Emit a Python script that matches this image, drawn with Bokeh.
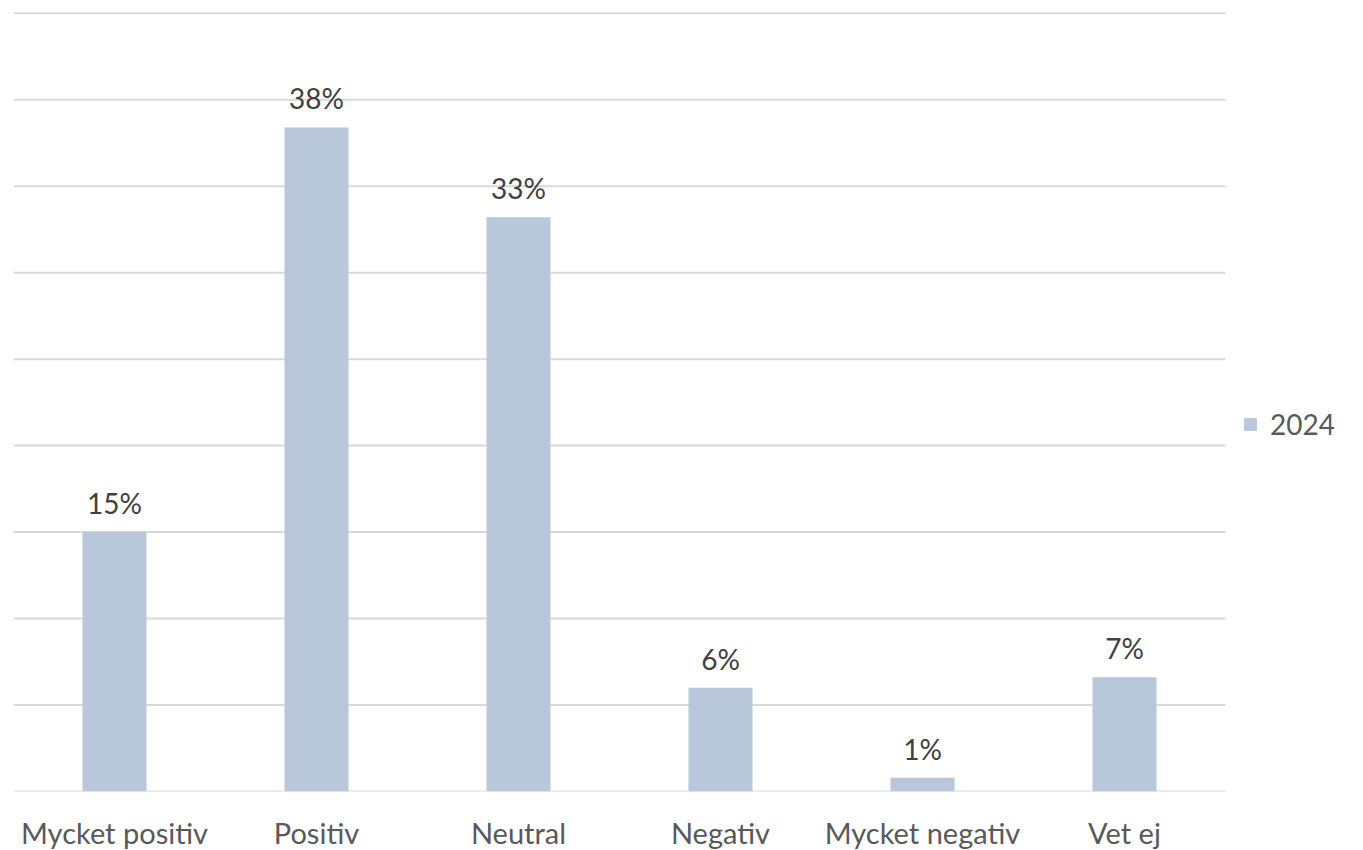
from bokeh.plotting import figure
from bokeh.models import ColumnDataSource, Legend, LegendItem, FixedTicker, Range1d
from bokeh.core.properties import value
from bokeh.embed import file_html
from bokeh.resources import INLINE

categories = ["Mycket positiv", "Positiv", "Neutral", "Negativ", "Mycket negativ", "Vet ej"]
values_2024 = [15.0, 38.4, 33.2, 6.0, 0.8, 6.6]
labels_2024 = ["15%", "38%", "33%", "6%", "1%", "7%"]
series_name = "2024"
grid_ticks = [0, 5, 10, 15, 20, 25, 30, 35, 40, 45]

FONT = "Lato"
TXT = "#404040"
TXT2 = "#595959"
BAR = "#b9c7da"
GRID = "#d9d9d9"

xpos = list(range(len(categories)))
src = ColumnDataSource(dict(x=xpos, cat=categories, val=values_2024, lab=labels_2024))
n = len(categories)

p = figure(x_range=Range1d(-0.5, n - 0.5 + 130 / 202), y_range=(0, 45.1),
           output_backend="svg", toolbar_location=None,
           frame_width=1212 + 130, frame_height=780,
           min_border_left=13, min_border_top=11, min_border_bottom=56,
           min_border_right=0)
p.outline_line_color = None
p.background_fill_color = "white"
p.xgrid.grid_line_color = None
p.ygrid.grid_line_color = None

# horizontal gridlines (only across the category area)
p.segment(x0=[-0.5] * len(grid_ticks), x1=[n - 0.5] * len(grid_ticks),
          y0=grid_ticks, y1=grid_ticks, line_color=GRID, line_width=2)

r = p.vbar(x="x", top="val", width=0.317, source=src, color=BAR, line_color=None)
p.text(x="x", y="val", text="lab", source=src, text_align="center",
       text_baseline="alphabetic", y_offset=-29, text_font=value(FONT),
       text_font_size="28px", text_color=TXT)

p.yaxis.visible = False

p.xaxis.ticker = FixedTicker(ticks=xpos)
p.xaxis.major_label_overrides = {i: c for i, c in zip(xpos, categories)}
p.xaxis.axis_line_color = None
p.xaxis.major_tick_line_color = None
p.xaxis.minor_tick_line_color = None
p.xaxis.major_label_text_font = FONT
p.xaxis.major_label_text_font_size = "29px"
p.xaxis.major_label_text_color = TXT2
p.xaxis.major_label_standoff = 17

legend = Legend(items=[LegendItem(label=series_name, renderers=[r])],
                location=(1229, 350), border_line_color=None,
                label_text_font=FONT, label_text_font_size="28px",
                label_text_color=TXT2, glyph_width=16, glyph_height=16,
                label_standoff=12, padding=0, margin=0, background_fill_alpha=0)
p.add_layout(legend, "center")

open("out.html", "w").write(file_html(p, INLINE))
